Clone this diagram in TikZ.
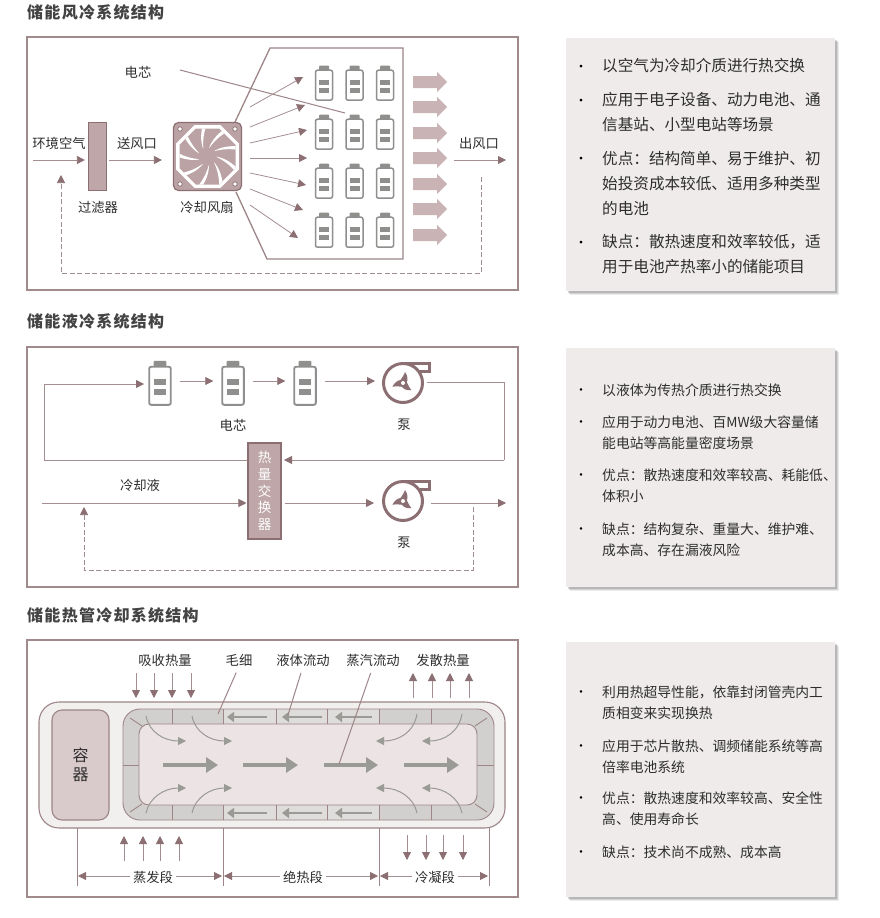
\documentclass[tikz,border=0pt]{standalone}
\usepackage{fontspec}
\setmainfont{Noto Sans CJK SC}
\newfontfamily\ttlfont[LetterSpace=8]{Noto Sans CJK SC}
\usetikzlibrary{arrows.meta,calc}
\definecolor{mline}{HTML}{A48E90}
\definecolor{mdark}{HTML}{8C6F73}
\definecolor{mframe}{HTML}{A08A8C}
\definecolor{mfill}{HTML}{BFA7A9}
\definecolor{mblock}{HTML}{C9B3B5}
\definecolor{mfan}{HTML}{BBA3A5}
\definecolor{panelbg}{HTML}{EEEBEA}
\definecolor{battgray}{HTML}{8F8F8D}
\definecolor{txt}{HTML}{2E2E2E}
\definecolor{pipegray}{HTML}{D2D0CE}
\definecolor{pipelight}{HTML}{DFDDDB}
\definecolor{pipeinner}{HTML}{EBE3E4}
\definecolor{outerbg}{HTML}{F2EFEF}
\definecolor{contfill}{HTML}{D9CACC}
\definecolor{grayarrow}{HTML}{9A9A96}
\tikzset{
  x=1pt,y=-1pt,
  lbl/.style={inner sep=0pt,font=\fontsize{13.3}{15}\selectfont,text=txt},
  ttl/.style={inner sep=0pt,anchor=west,font=\fontsize{16}{18}\ttlfont\bfseries,text=txt!90},
  frm/.style={draw=mframe,line width=1.2pt,fill=white},
  arr/.style={draw=mline,line width=0.8pt,-{Triangle[length=8pt,width=8pt,color=mdark]}},
  plainline/.style={draw=mline,line width=0.8pt},
  dashline/.style={draw=mline!85!gray,line width=0.7pt,dash pattern=on 5pt off 2.5pt},
  dasharr/.style={dashline,-{Triangle[length=8pt,width=8pt,color=mdark]}},
  blockarr/.style={fill=mblock,draw=none},
  pipeline/.style={draw=mdark!85,line width=0.9pt},
  smallgray/.style={draw=grayarrow,line width=2.4pt,-{Triangle[length=7pt,width=10pt,color=grayarrow]}},
  biggray/.style={draw=grayarrow,line width=4.5pt,-{Triangle[length=12pt,width=15pt,color=grayarrow]}},
  curvegray/.style={draw=grayarrow,line width=1pt,-{Triangle[length=8pt,width=8pt,color=grayarrow]}},
  bul/.style={inner sep=0pt,text=black},
  itemone/.style={inner sep=0pt,anchor=west,align=left,text=txt,font=\fontsize{15.6}{25}\selectfont},
  itemtwo/.style={inner sep=0pt,anchor=west,align=left,text=txt,font=\fontsize{13.8}{21.3}\selectfont},
}
% name, x, y (centre), scale
\newcommand{\battery}[4]{%
  \fill[battgray,rounded corners=1pt] (#2-5*#4,#3-17.5*#4) rectangle (#2+5*#4,#3-12*#4);
  \node[draw=battgray,fill=white,line width=1.5*#4 pt,rounded corners=2pt,inner sep=0pt,minimum width=17*#4 pt,minimum height=30*#4 pt] (#1) at (#2,#3+2.2*#4) {};
  \fill[battgray] (#2-5*#4,#3-3.5*#4) rectangle (#2+5*#4,#3+1.5*#4);
  \fill[battgray] (#2-5*#4,#3+4.5*#4) rectangle (#2+5*#4,#3+9.5*#4);
}
% name, x, y
\newcommand{\pump}[3]{%
  \node[circle,draw=mdark,line width=3pt,fill=white,inner sep=0pt,minimum size=39pt] (#1) at (#2,#3) {};
  \draw[mdark,line width=3pt,line join=miter] (#2,#3-19.5) -- (#2+26,#3-19.5) -- (#2+26,#3-12) -- (#2+17,#3-12);
  \foreach \r in {0,120,240}{
    \fill[mdark,rotate around={\r:(#2,#3)}] (#2-4,#3-1) .. controls (#2-1,#3-5) and (#2+1,#3-8) .. (#2+2,#3-11) .. controls (#2+5,#3-7) and (#2+5,#3-3) .. (#2+3.5,#3) -- cycle;
  }
  \fill[white] (#2,#3) circle (2pt);
}
\begin{document}
\begin{tikzpicture}
\useasboundingbox (0,0) rectangle (880,918);
\fill[white] (0,0) rectangle (880,918);

% ---------- titles
\node[ttl] (t1) at (27,12.5) {储能风冷系统结构};
\node[ttl] (t2) at (27,321.5) {储能液冷系统结构};
\node[ttl] (t3) at (27,615.5) {储能热管冷却系统结构};

% ---------- panel frames
\path[frm] (27,37) rectangle (518,290);
\path[frm] (27,347) rectangle (518,587);
\path[frm] (27,640) rectangle (518,897);

% ---------- right text panels
\foreach \a/\b in {38/291,348/587,642/897}{
  \foreach \o/\op in {4/.12,3/.18,2/.25}{
    \fill[black!60,opacity=\op] (566+\o,\a+\o) rectangle (835+\o,\b+\o);
  }
  \fill[panelbg] (566,\a) rectangle (835,\b);
}

% ---------- text panel 1
\foreach \y in {68,102,160,244}{\node[bul] at (581,\y) {\fontsize{13}{15}\selectfont •};}
\node[itemone] (a1) at (602,66) {以空气为冷却介质进行热交换};
\node[itemone] (a2) at (602,112.5) {应用于电子设备、动力电池、通\\信基站、小型电站等场景};
\node[itemone] (a3) at (602,183) {优点：结构简单、易于维护、初\\始投资成本较低、适用多种类型\\的电池};
\node[itemone] (a4) at (602,254.5) {缺点：散热速度和效率较低，适\\用于电池产热率小的储能项目};

% ---------- text panel 2
\foreach \y in {392,424,477,531}{\node[bul] at (581,\y) {\fontsize{12}{14}\selectfont •};}
\node[itemtwo] (b1) at (602,390) {以液体为传热介质进行热交换};
\node[itemtwo] (b2) at (602,432.5) {应用于动力电池、百MW级大容量储\\能电站等高能量密度场景};
\node[itemtwo] (b3) at (602,486) {优点：散热速度和效率较高、耗能低、\\体积小};
\node[itemtwo] (b4) at (602,539.5) {缺点：结构复杂、重量大、维护难、\\成本高、存在漏液风险};

% ---------- text panel 3
\foreach \y in {694,748,800,854}{\node[bul] at (581,\y) {\fontsize{12}{14}\selectfont •};}
\node[itemtwo] (c1) at (602,702.5) {利用热超导性能，依靠封闭管壳内工\\质相变来实现换热};
\node[itemtwo] (c2) at (602,756.5) {应用于芯片散热、调频储能系统等高\\倍率电池系统};
\node[itemtwo] (c3) at (602,809) {优点：散热速度和效率较高、安全性\\高、使用寿命长};
\node[itemtwo] (c4) at (602,852) {缺点：技术尚不成熟、成本高};

% ================= AIR COOLING
\node[lbl] (env) at (59,143) {环境空气};
\node[lbl] (send) at (137,143) {送风口};
\node[lbl] (filtl) at (98,207) {过滤器};
\node[lbl] (fanl) at (207,207) {冷却风扇};
\node[lbl] (celll) at (138,72) {电芯};
\node[lbl] (outl) at (479,143) {出风口};

\node[draw=mdark,line width=1.3pt,fill=mfill,inner sep=0pt,minimum width=18pt,minimum height=68pt] (filt) at (97.5,156.5) {};
\node[draw=mdark,line width=1.2pt,fill=mfan,rounded corners=5pt,inner sep=0pt,minimum width=68pt,minimum height=68pt] (fan) at (207.5,156.5) {};

% cabinet outline
\coordinate (capA) at (235,122);
\coordinate (capB) at (270,48);
\coordinate (capC) at (403,48);
\coordinate (capD) at (403,259);
\coordinate (capE) at (267,259);
\coordinate (capF) at (236,192);
\draw[draw=mdark!85,line width=1.3pt] (capA) -- (capB) -- (capC) -- (capD) -- (capE) -- (capF);

% fan wheel
\begin{scope}[shift={(207.5,156.5)}]
  \fill[white] (31.4,13) -- (13,31.4) -- (-13,31.4) -- (-31.4,13) -- (-31.4,-13) -- (-13,-31.4) -- (13,-31.4) -- (31.4,-13) -- cycle;
  \begin{scope}
    \clip (28,11.6) -- (11.6,28) -- (-11.6,28) -- (-28,11.6) -- (-28,-11.6) -- (-11.6,-28) -- (11.6,-28) -- (28,-11.6) -- cycle;
    \fill[mfan] (-32,-32) rectangle (32,32);
    \foreach \r in {0,40,...,320}{
      \fill[white,rotate=\r] (8,0) .. controls (16,1) and (25,6) .. (33,15) -- (31,19) .. controls (24,9) and (15,3) .. (8,0) -- cycle;
    }
  \end{scope}
  \fill[mfan] (0,0) circle (9pt);
  \foreach \sx/\sy in {-1/-1,1/-1,-1/1,1/1}{
    \draw[mdark,line width=0.7pt,fill=white] (27.5*\sx,27.5*\sy) circle (2.2pt);
  }
\end{scope}

% batteries
\foreach \i/\cy in {1/83,2/132,3/181,4/230}{
  \foreach \j/\cx in {1/324,2/354.5,3/385}{
    \battery{ac\i\j}{\cx}{\cy}{1}
  }
}
% cell leader
\coordinate (cellfrom) at (180,70);
\coordinate (cellto) at (345,113);
\draw[draw=mdark!85,line width=1pt] (cellfrom) -- (cellto);

% fan arrows
\foreach \sy/\ex/\ey in {107/303/77,127/305/105,143/307/130,158/307/158,173/306/185,189/303/210,205/298/238}{
  \draw[arr] (250,\sy) -- (\ex,\ey);
}
% outflow block arrows
\foreach \y in {82,107,133,158,184,209,235}{
  \fill[blockarr] (413,\y-6) -- (437,\y-6) -- (437,\y-10) -- (447,\y) -- (437,\y+10) -- (437,\y+6) -- (413,\y+6) -- cycle;
}
% air flow
\coordinate (airin) at (33,160);
\coordinate (airout) at (506,160);
\coordinate (airoutS) at (454,160);
\draw[arr,shorten >=3pt] (airin) -- (airin -| filt.west);
\draw[arr,shorten <=2pt,shorten >=11pt] (airin -| filt.east) -- (airin -| fan.west);
\draw[arr] (airoutS) -- (airout);
% return
\coordinate (retA) at (481,177);
\coordinate (retB) at (481,273);
\coordinate (retC) at (61,273);
\coordinate (retD) at (61,175);
\draw[dasharr] (retA) -- (retB) -- (retC) -- (retD);

% ================= LIQUID COOLING
\battery{lb1}{160}{383}{1.27}
\battery{lb2}{233}{383}{1.27}
\battery{lb3}{305}{383}{1.27}
\pump{lp1}{403}{383}
\pump{lp2}{403}{501}
\node[lbl] (lcell) at (233,425) {电芯};
\node[lbl] (lpl1) at (404,425) {泵};
\node[lbl] (lpl2) at (404,543) {泵};
\node[lbl] (coolant) at (140,485) {冷却液};
\node[draw=mdark,line width=1.1pt,fill=mfill,inner sep=0pt,minimum width=33pt,minimum height=96pt,align=center,text=white,font=\fontsize{13.5}{16.8}\selectfont] (hx) at (264.5,491) {热\\量\\交\\换\\器};

\coordinate (yt) at (0,381);
\coordinate (l1) at (44,460);
\coordinate (l2) at (44,384);
\coordinate (l3) at (144,384);
\coordinate (hxl) at (247,460);
\coordinate (r1) at (427,382);
\coordinate (r2) at (504,382);
\coordinate (r3) at (504,460);
\coordinate (hxr) at (284,460);
\draw[plainline] (hxl) -- (l1) -- (l2);
\draw[arr] (l2) -- (l3);
\draw[arr,shorten <=8pt,shorten >=8pt] (yt -| lb1.east) -- (yt -| lb2.west);
\draw[arr,shorten <=8pt,shorten >=8pt] (yt -| lb2.east) -- (yt -| lb3.west);
\draw[arr,shorten <=8pt,shorten >=7pt] (yt -| lb3.east) -- (yt -| lp1.west);
\draw[plainline] (r1) -- (r2) -- (r3);
\draw[arr] (r3) -- (hxr);

\coordinate (y2) at (0,503);
\coordinate (cin) at (42,503);
\coordinate (cout) at (506,503);
\coordinate (cpout) at (431,503);
\draw[arr,shorten >=1pt] (cin) -- (cin -| hx.west);
\draw[arr,shorten <=3pt,shorten >=8pt] (y2 -| hx.east) -- (y2 -| lp2.west);
\draw[arr] (cpout) -- (cout);
\coordinate (dA) at (473,507);
\coordinate (dB) at (473,570);
\coordinate (dC) at (84,570);
\coordinate (dD) at (84,507);
\draw[dasharr] (dA) -- (dB) -- (dC) -- (dD);

% ================= HEAT PIPE
\node[draw=mdark!85,line width=1.1pt,fill=outerbg,rounded corners=20pt,inner sep=0pt,minimum width=466pt,minimum height=126pt] (shell) at (272,765) {};
\node[draw=mdark!85,line width=1.1pt,fill=contfill,rounded corners=10pt,inner sep=0pt,minimum width=57pt,minimum height=110pt,align=center,text=txt,font=\fontsize{16}{18.5}\selectfont] (cont) at (80.5,765) {容\\器};

% pipe
\fill[pipegray,rounded corners=17pt] (123,709) rectangle (494,820);
\fill[pipelight] (223,709) rectangle (379,820);
\draw[pipeline,rounded corners=17pt] (123,709) rectangle (494,820);
\node[draw=mdark!85,line width=0.9pt,fill=pipeinner,rounded corners=10pt,inner sep=0pt,minimum width=338pt,minimum height=81pt] (core) at (308,764.5) {};
\foreach \x in {172,223,276,327,379,431}{
  \draw[pipeline] (\x,709) -- (\x,724);
  \draw[pipeline] (\x,805) -- (\x,820);
}
\draw[pipeline] (130,718) -- (142,726);
\draw[pipeline] (130,812) -- (142,804);
\draw[pipeline] (487,718) -- (475,726);
\draw[pipeline] (487,812) -- (475,804);
\draw[pipeline] (123,765) -- (139,765);
\draw[pipeline] (477,765) -- (494,765);

% small gray arrows in the pipe
\foreach \y in {717,813}{
  \draw[smallgray] (267,\y) -- (227,\y);
  \draw[smallgray] (322,\y) -- (282,\y);
  \draw[smallgray] (372,\y) -- (335,\y);
}
% big gray arrows
\foreach \a/\b in {163/218,243/298,324/378,404/459}{
  \draw[biggray] (\a,765) -- (\b,765);
}
% curved arrows
\foreach \a/\b in {146/186,192/232}{
  \draw[curvegray] (\a,716) .. controls (\a+3,732) and (\a+18,741) .. (\b,741);
  \draw[curvegray] (\a,813) .. controls (\a+3,798) and (\a+18,788) .. (\b,788);
}
\foreach \a/\b in {417/376,462/422}{
  \draw[curvegray] (\a,714) .. controls (\a-3,732) and (\a-18,741) .. (\b,741);
  \draw[curvegray] (\a,813) .. controls (\a-3,798) and (\a-18,788) .. (\b,788);
}

% labels
\node[lbl] (hp1) at (165,660) {吸收热量};
\node[lbl] (hp2) at (239,660) {毛细};
\node[lbl] (hp3) at (303,660) {液体流动};
\node[lbl] (hp4) at (373,660) {蒸汽流动};
\node[lbl] (hp5) at (443,660) {发散热量};
\coordinate (hp2t) at (218,714);
\coordinate (hp3t) at (288,715);
\coordinate (hp4t) at (339,764);
\draw[draw=mdark!85,line width=1pt,shorten <=7pt] (hp2.south) -- (hp2t);
\draw[draw=mdark!85,line width=1pt,shorten <=7pt] (hp3.south) -- (hp3t);
\draw[draw=mdark!85,line width=1pt,shorten <=7pt] (hp4.south) -- (hp4t);

% heat arrows
\foreach \x in {136,154,172,191}{\draw[arr] (\x,673) -- (\x,698);}
\foreach \x in {413,432,450,469}{\draw[arr] (\x,698) -- (\x,673);}
\foreach \x in {124,143,160,179}{\draw[arr] (\x,861) -- (\x,836);}
\foreach \x in {407,426,443,463}{\draw[arr] (\x,835) -- (\x,860);}

% dimension lines
\foreach \x in {77,223,379,489}{\draw[draw=mdark!85,line width=0.9pt] (\x,828) -- (\x,886);}
\node[lbl,inner xsep=3pt] (s1) at (153,877) {蒸发段};
\node[lbl,inner xsep=3pt] (s2) at (303,877) {绝热段};
\node[lbl,inner xsep=3pt] (s3) at (435,877) {冷凝段};
\coordinate (yd) at (0,876);
\coordinate (d1) at (78,876);
\coordinate (d2) at (222,876);
\coordinate (d3) at (224,876);
\coordinate (d4) at (378,876);
\coordinate (d5) at (380,876);
\coordinate (d6) at (488,876);
\draw[arr] (yd -| s1.west) -- (d1);
\draw[arr] (yd -| s1.east) -- (d2);
\draw[arr] (yd -| s2.west) -- (d3);
\draw[arr] (yd -| s2.east) -- (d4);
\draw[arr] (yd -| s3.west) -- (d5);
\draw[arr] (yd -| s3.east) -- (d6);
\end{tikzpicture}
\end{document}
